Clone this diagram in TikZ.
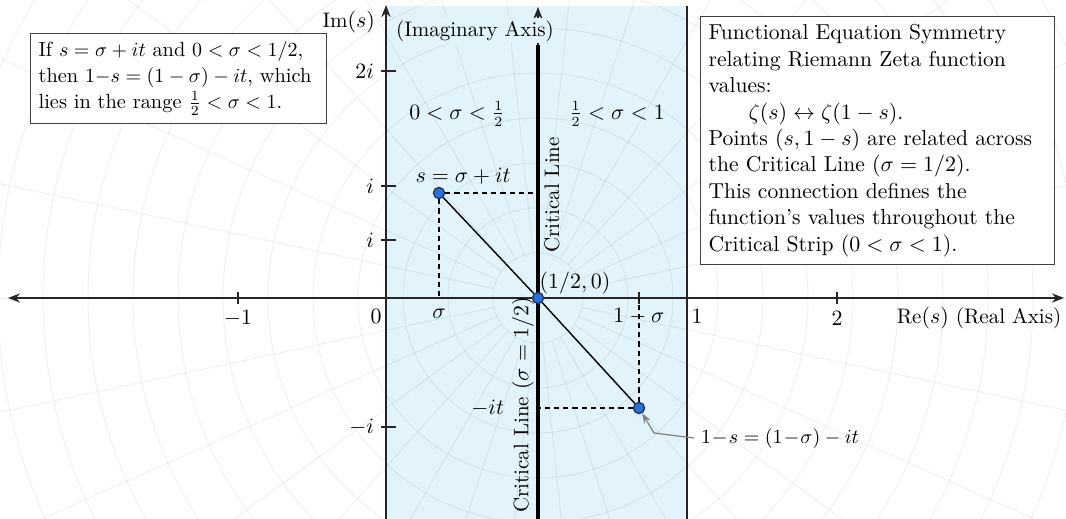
\documentclass[tikz,border=0pt]{standalone}
\usepackage{amsmath}
\usetikzlibrary{arrows.meta}
\definecolor{strip}{RGB}{226,243,252}
\definecolor{dotblue}{RGB}{45,110,215}
\definecolor{dotedge}{RGB}{25,45,90}
\begin{document}
\begin{tikzpicture}[x=0.5pt,y=-0.5pt,
  every node/.style={font=\fontsize{10.5}{12.5}\selectfont},
  dot/.style={circle,fill=dotblue,draw=dotedge,line width=0.6pt,inner sep=0pt,minimum size=5.6pt},
  tickmark/.style={line width=0.6pt,draw=black!85},
  dashline/.style={dashed,dash pattern=on 2.6pt off 2pt,line width=0.6pt},
  gridline/.style={draw=black,opacity=0.06,line width=0.5pt},
  axisline/.style={line width=0.75pt,draw=black!85},
  infobox/.style={draw=black!75,fill=white,line width=0.6pt,anchor=north west,align=left,inner xsep=4pt,inner ysep=4pt},
  tip/.style={-{Stealth[length=6pt,width=4.6pt]}}]
\useasboundingbox (0,0) rectangle (1066,519);
\fill[white] (0,0) rectangle (1066,519);
% critical strip
\fill[strip] (386,6) rectangle (687,519);
% faint background grid
\begin{scope}
  \clip (0,0) rectangle (1066,519);
  \foreach \r in {45,90,...,765} \draw[gridline] (538,298) circle[radius=\r];
  \foreach \a in {0,12,...,348} \draw[gridline,shift={(538,298)}] (\a:45) -- (\a:900);
\end{scope}
% axes
\coordinate (xl) at (8,298);
\coordinate (xr) at (1064,298);
\draw[axisline,{Stealth[length=6pt,width=4.6pt]}-{Stealth[length=6pt,width=4.6pt]}] (xl) -- (xr);
\coordinate (yb) at (386,519);
\coordinate (yt) at (386,5);
\draw[axisline,tip] (yb) -- (yt);
\coordinate (cb) at (538,519);
\coordinate (ct) at (538,7);
\draw[axisline,tip] (cb) -- (ct);
\coordinate (ob) at (687,519);
\coordinate (ot) at (687,6);
\draw[axisline] (ob) -- (ot);
\node[fill=strip,inner sep=1pt] (imlab) at (475,31) {(Imaginary Axis)};
\coordinate (clt) at (538,45);
\draw[line width=1.6pt] (cb) -- (clt);
% ticks
\foreach \y in {71,186,240,427} \draw[tickmark] (381,\y) -- (396,\y);
\foreach \x in {238,639,837} \draw[tickmark] (\x,292) -- (\x,304);
% axis labels
\node[anchor=east] (imname) at (382,22) {Im$(s)$};
\node[anchor=east] (l2i) at (381,71) {$2i$};
\node[anchor=east] (li1) at (381,186) {$i$};
\node[anchor=east] (li2) at (381,240) {$i$};
\node[anchor=east] (lmi) at (381,427) {$-i$};
\node (lm1) at (238,318) {$-1$};
\node (l0) at (376,316) {$0$};
\node (lsig) at (439,314) {$\sigma$};
\node (l1ms) at (639,316) {$1-\sigma$};
\node (l1) at (697,316) {$1$};
\node (l2) at (837,318) {$2$};
\node (rename) at (979,318) {Re$(s)$ (Real Axis)};
% region labels
\node (reg1) at (457,114) {$0<\sigma<\frac{1}{2}$};
\node (reg2) at (617,114) {$\frac{1}{2}<\sigma<1$};
\node[rotate=90] (cl1) at (552,195) {Critical Line};
\node[rotate=90] (cl2) at (523,405) {Critical Line $(\sigma=1/2)$};
% points
\node[dot] (c) at (538,298) {};
\node[dot] (s) at (439,193) {};
\node[dot] (t) at (639,408) {};
\draw[line width=0.7pt] (s) -- (c);
\draw[line width=0.7pt] (c) -- (t);
\draw[dashline] (s) -- (s |- c);
\draw[dashline] (s) -- (s -| c);
\draw[dashline] (t) -- (t |- c);
\draw[dashline] (t) -- (t -| c);
\node (slab) at (463,176) {$s=\sigma+it$};
\node (clab) at (575,283) {$(1/2,0)$};
\node[anchor=east] (itlab) at (511,408) {$-it$};
\node[anchor=west,font=\fontsize{10}{12}\selectfont] (tlab) at (694,438) {$1\!-\!s=(1\!-\!\sigma)-it$};
\draw[gray,line width=0.6pt,-{Stealth[length=5pt,width=3.6pt]}] (tlab.west) -- ++(-40,-5) -- (t);
% boxes
\node[infobox,font=\fontsize{10.2}{13}\selectfont,text width=140pt] (lbox) at (30,33)
  {\mbox{If $s=\sigma+it$ and $0<\sigma<1/2$,}\\
   \mbox{then $1{-}s=(1-\sigma)-it$, which}\\
   \mbox{lies in the range $\frac{1}{2}<\sigma<1$.}};
\node[infobox,font=\fontsize{10.8}{13.2}\selectfont,text width=169pt] (rbox) at (700,16)
  {Functional Equation Symmetry\\
   relating Riemann Zeta function\\
   values:\\
   \hspace*{20pt}$\zeta(s)\leftrightarrow\zeta(1-s)$.\\
   \mbox{Points $(s,1-s)$ are related across}\\
   the Critical Line $(\sigma=1/2)$.\\
   This connection defines the\\
   function's values throughout the\\
   Critical Strip $(0<\sigma<1)$.};
\end{tikzpicture}
\end{document}
